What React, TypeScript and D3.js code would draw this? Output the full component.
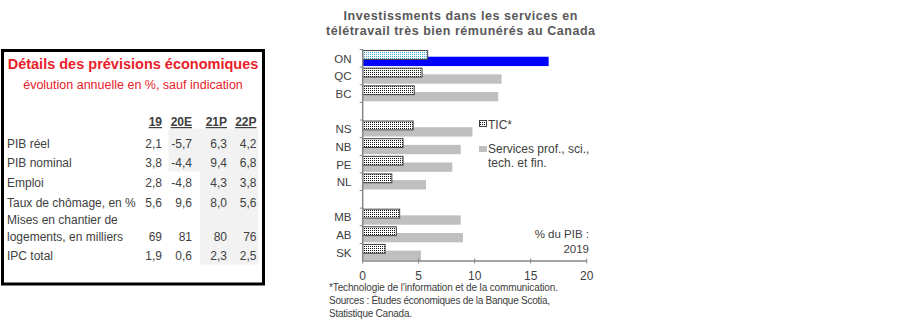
import React from "react";
import * as d3 from "d3";

// ---------- Data ----------
const provinces = ["ON", "QC", "BC", "gap1", "NS", "NB", "PE", "NL", "gap2", "MB", "AB", "SK"];
const ticValues: (number | null)[] = [5.8, 5.3, 4.6, null, 4.5, 3.6, 3.6, 2.6, null, 3.3, 3.0, 2.0];
const servicesValues: (number | null)[] = [16.6, 12.4, 12.1, null, 9.8, 8.75, 8.0, 5.65, null, 8.75, 8.95, 5.2];
const xTicks = [0, 5, 10, 15, 20];
const highlight = "ON";

const chartTitle = ["Investissments  dans les services  en", "télétravail très bien rémunérés au Canada"];
const legendLabels = ["TIC*", "Services prof.,  sci.,", "tech. et fin."];
const unitNote = ["% du PIB :", "2019"];
const footnotes = [
  "*Technologie  de l'information  et de la communication.",
  "Sources : Études économiques  de la Banque Scotia,",
  "Statistique  Canada.",
];

const tableTitle = "Détails des prévisions économiques";
const tableSubtitle = "évolution annuelle en %, sauf indication";
const tableHeaders = ["19", "20E", "21P", "22P"];
const tableLabels = [
  ["PIB réel"],
  ["PIB nominal"],
  ["Emploi"],
  ["Taux de chômage, en  %"],
  ["Mises en chantier de", "logements, en milliers"],
  ["IPC total"],
];
const tableValues = [
  ["2,1", "-5,7", "6,3", "4,2"],
  ["3,8", "-4,4", "9,4", "6,8"],
  ["2,8", "-4,8", "4,3", "3,8"],
  ["5,6", "9,6", "8,0", "5,6"],
  ["69", "81", "80", "76"],
  ["1,9", "0,6", "2,3", "2,5"],
];

// ---------- Layout ----------
const W = 899;
const H = 322;
const FONT = "'Liberation Sans', Arial, sans-serif";
const TXT = "#404040";

const colRight = [162, 192, 227, 256.5];
const rowBaselines = [148, 167, 187, 206.5, 240.5, 260];
const labelLine1Offset = -16.5;
const titleLengths = [234, 269];
const footLengths = [229, 221, 83];

export default function App() {
  const x = d3.scaleLinear().domain([0, 20]).range([362.7, 586.7]);
  const y = d3.scaleBand<string>().domain(provinces).range([49.5, 261]).padding(0);
  const bw = y.bandwidth();

  const slots = provinces.map((p, i) => ({ p, tic: ticValues[i], svc: servicesValues[i] }));

  return (
    <svg
      width={W}
      height={H}
      style={{ position: "absolute", left: 0, top: 0, background: "#fff" }}
      fontFamily={FONT}
    >
      <defs>
        <pattern id="dots" width="2" height="2" patternUnits="userSpaceOnUse">
          <rect width="2" height="2" fill="#ffffff" />
          <rect width="1" height="1" fill="#111111" />
        </pattern>
        <pattern id="dotsBlue" width="2" height="2" patternUnits="userSpaceOnUse">
          <rect width="2" height="2" fill="#ffffff" />
          <rect width="1" height="1" fill="#3aa6dd" />
        </pattern>
      </defs>

      {/* ---------- Left table ---------- */}
      <rect x={2.5} y={50.5} width={261} height={233.5} fill="#fff" stroke="#000" strokeWidth={3} />
      <path d={`M168.5,128.5 H258.5 V264.5 H200 V171.5 H168.5 Z`} fill="#f2f2f2" />
      <text x={133} y={69} textAnchor="middle" fill="#e8202a" fontWeight="bold" fontSize={14.5}>
        {tableTitle}
      </text>
      <text x={133} y={89} textAnchor="middle" fill="#e8202a" fontSize={12.5}>
        {tableSubtitle}
      </text>
      {tableHeaders.map((h, i) => (
        <text
          key={h}
          x={colRight[i]}
          y={126}
          textAnchor="end"
          fill={TXT}
          fontSize={12}
          fontWeight="bold"
          textDecoration="underline"
        >
          {h}
        </text>
      ))}
      {tableLabels.map((lines, r) => (
        <g key={r}>
          {lines.map((l, k) => (
            <text
              key={k}
              x={7}
              y={rowBaselines[r] + (lines.length === 2 && k === 0 ? labelLine1Offset : 0)}
              fill={TXT}
              fontSize={12}
            >
              {l}
            </text>
          ))}
          {tableValues[r].map((v, c) => (
            <text key={c} x={colRight[c]} y={rowBaselines[r]} textAnchor="end" fill={TXT} fontSize={12}>
              {v}
            </text>
          ))}
        </g>
      ))}

      {/* ---------- Right chart ---------- */}
      {chartTitle.map((t, i) => (
        <text
          key={i}
          x={460.5 - titleLengths[i] / 2}
          y={20 + i * 14.5}
          fill="#595959"
          fontWeight="bold"
          fontSize={12.5}
          textLength={titleLengths[i]}
          lengthAdjust="spacing"
        >
          {t}
        </text>
      ))}

      {/* bars */}
      {slots.map((s) =>
        s.svc == null ? null : (
          <rect
            key={"s" + s.p}
            x={x(0)}
            y={(y(s.p) as number) + bw * 0.41}
            width={x(s.svc) - x(0)}
            height={bw * 0.53}
            fill={s.p === highlight ? "#0000ff" : "#bfbfbf"}
          />
        )
      )}
      {slots.map((s) =>
        s.tic == null ? null : (
          <rect
            key={"t" + s.p}
            x={x(0)}
            y={(y(s.p) as number) + bw * 0.06}
            width={x(s.tic) - x(0)}
            height={bw * 0.5}
            fill={s.p === highlight ? "url(#dotsBlue)" : "url(#dots)"}
            stroke="#404040"
            strokeWidth={1}
          />
        )
      )}

      {/* y axis */}
      <line x1={x(0)} x2={x(0)} y1={49} y2={261} stroke="#868686" strokeWidth={1.5} />
      {provinces.map((p) => (
        <line
          key={"yt" + p}
          x1={x(0) - 3}
          x2={x(0)}
          y1={y(p) as number}
          y2={y(p) as number}
          stroke="#868686"
          strokeWidth={1}
        />
      ))}
      {provinces.map((p) =>
        p.startsWith("gap") ? null : (
          <text
            key={"yl" + p}
            x={351.5}
            y={(y(p) as number) + bw / 2 + 4.5}
            textAnchor="end"
            fill={TXT}
            fontSize={11.5}
          >
            {p}
          </text>
        )
      )}

      {/* x axis */}
      <line x1={x(0)} x2={x(20)} y1={261} y2={261} stroke="#868686" strokeWidth={1.5} />
      {xTicks.map((t) => (
        <g key={"xt" + t}>
          <line x1={x(t)} x2={x(t)} y1={258.5} y2={263.5} stroke="#868686" strokeWidth={1} />
          <text x={x(t)} y={280} textAnchor="middle" fill={TXT} fontSize={12}>
            {t}
          </text>
        </g>
      ))}

      {/* legend */}
      <rect x={479.5} y={120.5} width={7} height={6} fill="url(#dots)" stroke="#404040" strokeWidth={1} />
      <text x={488} y={129} fill={TXT} fontSize={12}>
        {legendLabels[0]}
      </text>
      <rect x={479} y={146} width={8} height={6} fill="#bfbfbf" />
      <text x={488} y={153} fill={TXT} fontSize={12}>
        {legendLabels[1]}
      </text>
      <text x={488} y={166.5} fill={TXT} fontSize={12}>
        {legendLabels[2]}
      </text>

      {/* unit note */}
      <text x={589} y={238} textAnchor="end" fill={TXT} fontSize={11.5}>
        {unitNote[0]}
      </text>
      <text x={589} y={252.5} textAnchor="end" fill={TXT} fontSize={11.5}>
        {unitNote[1]}
      </text>

      {/* footnotes */}
      {footnotes.map((f, i) => (
        <text
          key={i}
          x={329}
          y={291 + i * 13}
          fill={TXT}
          fontSize={10}
          textLength={footLengths[i]}
          lengthAdjust="spacing"
        >
          {f}
        </text>
      ))}
    </svg>
  );
}
